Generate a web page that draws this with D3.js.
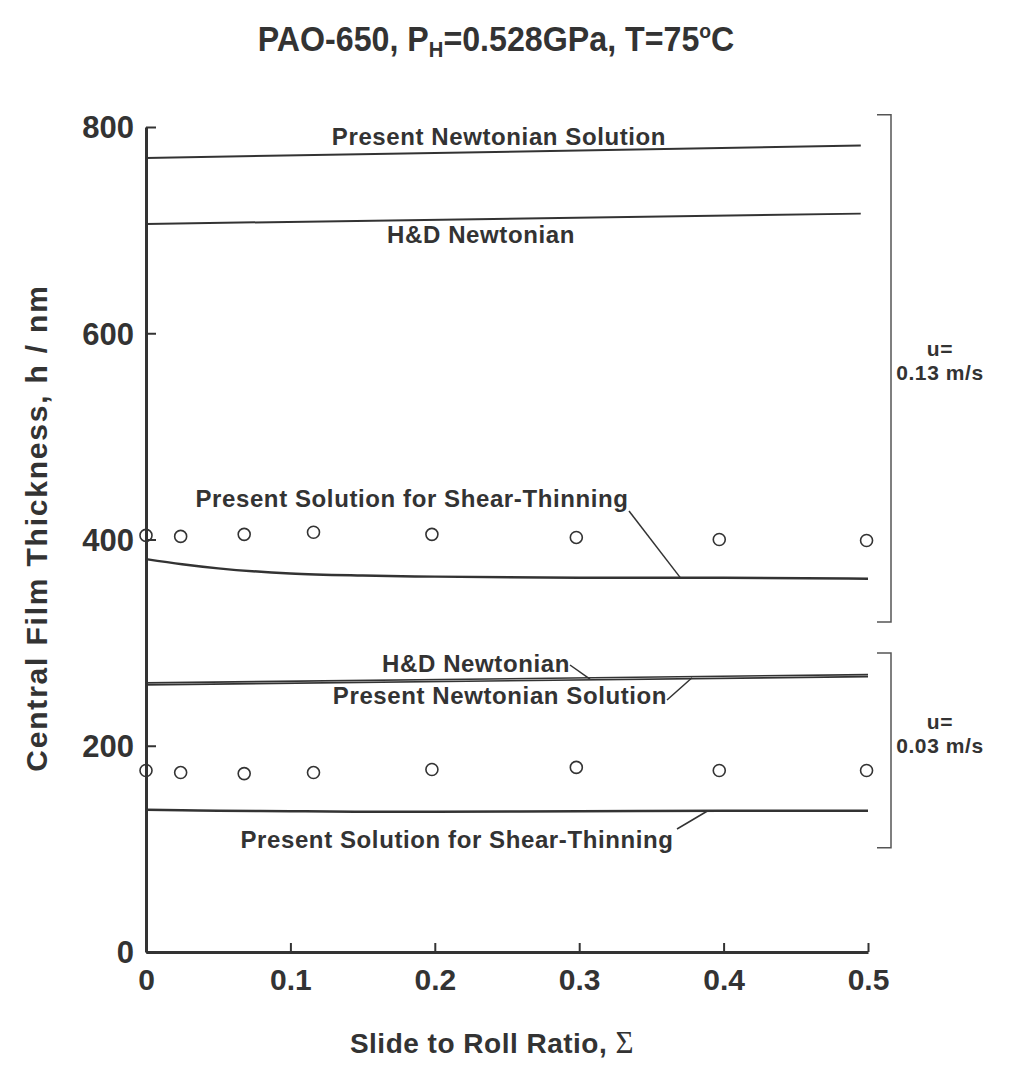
<!DOCTYPE html>
<html>
<head>
<meta charset="utf-8">
<script src="https://cdn.jsdelivr.net/npm/d3@7"></script>
<style>
  body { margin: 0; background: #fff; }
  text { font-family: "Liberation Sans", Arial, sans-serif; fill: #333; }
</style>
</head>
<body>
<svg width="1013" height="1067"></svg>
<script>
// slide to roll ratio for the model lines
var sigmaLine = [0, 0.495];
var sigmaLineLow = [0, 0.5];
var presentNewtHigh = [770, 782];
var hdNewtHigh = [706, 716];
var hdNewtLow = [261, 269];
var presentNewtLow = [259, 267];

// shear-thinning solutions
var sigmaThin = [0, 0.025, 0.05, 0.1, 0.15, 0.2, 0.3, 0.4, 0.5];
var thinHigh = [381, 376, 372, 367, 365, 364, 363, 363, 362];
var thinLow = [138, 137.5, 137, 136.5, 136, 136, 136.5, 137, 137];

// measured points (circles)
var sigmaExp = [0, 0.024, 0.068, 0.116, 0.198, 0.298, 0.397, 0.499];
var expHigh = [404, 403, 405, 407, 405, 402, 400, 399];
var expLow = [176, 174, 173, 174, 177, 179, 176, 176];

// speed brackets on the right
var bracketHigh = [320, 812];
var bracketLow = [101, 290];

var xTicks = [0, 0.1, 0.2, 0.3, 0.4, 0.5];
var yTicks = [0, 200, 400, 600, 800];

function main() {
    var svg = d3.select("svg");
    var ink = "#333";

    var x = d3.scaleLinear().domain([0, 0.5]).range([146, 868]);
    var y = d3.scaleLinear().domain([0, 800]).range([952, 127]);

    // title (squeezed a bit, the original is a narrow face)
    var title = svg.append("text")
        .attr("transform", "translate(496,51) scale(0.92,1)")
        .attr("text-anchor", "middle")
        .attr("font-size", "35px")
        .attr("font-weight", "bold");
    title.append("tspan").text("PAO-650, P");
    title.append("tspan").attr("font-size", "22px").attr("dy", 6).text("H");
    title.append("tspan").attr("dy", -6).text("=0.528GPa, T=75");
    title.append("tspan").attr("font-size", "21px").attr("dy", -13).text("o");
    title.append("tspan").attr("dy", 13).text("C");

    // axes
    var xAxis = svg.append("g")
        .attr("transform", "translate(0," + y(0) + ")")
        .call(d3.axisBottom(x).tickValues(xTicks).tickSizeInner(-9).tickSizeOuter(0)
            .tickFormat(function (d) { return d === 0 ? "0" : d3.format(".1f")(d); }));
    xAxis.select(".domain").attr("stroke", ink).attr("stroke-width", 3);
    xAxis.selectAll(".tick line").attr("stroke", ink).attr("stroke-width", 2);
    xAxis.selectAll(".tick text")
        .attr("y", 17).attr("dy", "0.71em")
        .attr("font-size", "30px").attr("font-weight", "bold")
        .attr("fill", ink);

    var yAxis = svg.append("g")
        .attr("transform", "translate(" + x(0) + ",0)")
        .call(d3.axisLeft(y).tickValues(yTicks).tickSizeInner(-10).tickSizeOuter(0));
    yAxis.select(".domain").attr("stroke", ink).attr("stroke-width", 3);
    yAxis.selectAll(".tick line").attr("stroke", ink).attr("stroke-width", 2);
    yAxis.selectAll(".tick text")
        .attr("x", -12).attr("dy", "0.35em")
        .attr("font-size", "31px").attr("font-weight", "bold")
        .attr("fill", ink);

    // axis titles
    svg.append("text")
        .attr("transform", "translate(47,528) rotate(-90)")
        .attr("text-anchor", "middle")
        .attr("font-size", "30px").attr("font-weight", "bold")
        .attr("letter-spacing", "1.8px")
        .text("Central Film Thickness, h / nm");

    var xl = svg.append("text")
        .attr("x", 492).attr("y", 1053)
        .attr("text-anchor", "middle")
        .attr("font-size", "28px").attr("font-weight", "bold")
        .attr("letter-spacing", "0.5px");
    xl.append("tspan").text("Slide to Roll Ratio, ");
    xl.append("tspan").attr("font-weight", "normal")
        .style("font-family", "'Liberation Serif', 'Times New Roman', serif")
        .attr("font-size", "31px").text("\u03A3");

    // lines
    var line = d3.line()
        .x(function (d) { return x(d[0]); })
        .y(function (d) { return y(d[1]); });
    var curve = d3.line()
        .x(function (d) { return x(d[0]); })
        .y(function (d) { return y(d[1]); })
        .curve(d3.curveMonotoneX);

    function drawLine(xs, ys, gen, w) {
        svg.append("path")
            .datum(d3.zip(xs, ys))
            .attr("fill", "none")
            .attr("stroke", ink)
            .attr("stroke-width", w)
            .attr("d", gen);
    }
    drawLine(sigmaLine, presentNewtHigh, line, 2);
    drawLine(sigmaLine, hdNewtHigh, line, 2);
    drawLine(sigmaLineLow, hdNewtLow, line, 1.6);
    drawLine(sigmaLineLow, presentNewtLow, line, 1.6);
    drawLine(sigmaThin, thinHigh, curve, 2.5);
    drawLine(sigmaThin, thinLow, curve, 2.5);

    // circles
    function drawPoints(xs, ys) {
        svg.append("g").selectAll("circle")
            .data(d3.zip(xs, ys))
            .enter().append("circle")
            .attr("cx", function (d) { return x(d[0]); })
            .attr("cy", function (d) { return y(d[1]); })
            .attr("r", 6)
            .attr("fill", "none")
            .attr("stroke", ink)
            .attr("stroke-width", 1.6);
    }
    drawPoints(sigmaExp, expHigh);
    drawPoints(sigmaExp, expLow);

    // curve labels
    function label(tx, ty, s) {
        svg.append("text")
            .attr("x", tx).attr("y", ty)
            .attr("text-anchor", "middle")
            .attr("font-size", "24px").attr("font-weight", "bold")
            .attr("letter-spacing", "0.6px")
            .text(s);
    }
    function leader(x1, y1, x2, y2) {
        svg.append("line")
            .attr("x1", x1).attr("y1", y1).attr("x2", x2).attr("y2", y2)
            .attr("stroke", ink).attr("stroke-width", 1.5);
    }
    label(499, 145, "Present Newtonian Solution");
    label(481, 243, "H&D Newtonian");
    label(412, 507, "Present Solution for Shear-Thinning");
    leader(629, 511, x(0.37), y(363));
    label(476, 672, "H&D Newtonian");
    leader(570, 665, 590, y(264.5));
    label(500, 704, "Present Newtonian Solution");
    leader(667, 700, 692, y(266));
    label(457, 848, "Present Solution for Shear-Thinning");
    leader(677, 829, 707, y(136.5));

    // speed brackets
    function bracket(b, t1, t2, ty) {
        var bx = 891;
        svg.append("path")
            .attr("fill", "none")
            .attr("stroke", "#555")
            .attr("stroke-width", 1.5)
            .attr("d", "M" + (bx - 14) + "," + y(b[1]) + "H" + bx + "V" + y(b[0]) + "H" + (bx - 14));
        svg.append("text").attr("x", 940).attr("y", ty)
            .attr("text-anchor", "middle").attr("font-size", "21px").attr("font-weight", "bold")
            .attr("letter-spacing", "0.6px").text(t1);
        svg.append("text").attr("x", 940).attr("y", ty + 24)
            .attr("text-anchor", "middle").attr("font-size", "21px").attr("font-weight", "bold")
            .attr("letter-spacing", "0.6px").text(t2);
    }
    bracket(bracketHigh, "u=", "0.13 m/s", 356);
    bracket(bracketLow, "u=", "0.03 m/s", 729);
}
main();
</script>
</body>
</html>
